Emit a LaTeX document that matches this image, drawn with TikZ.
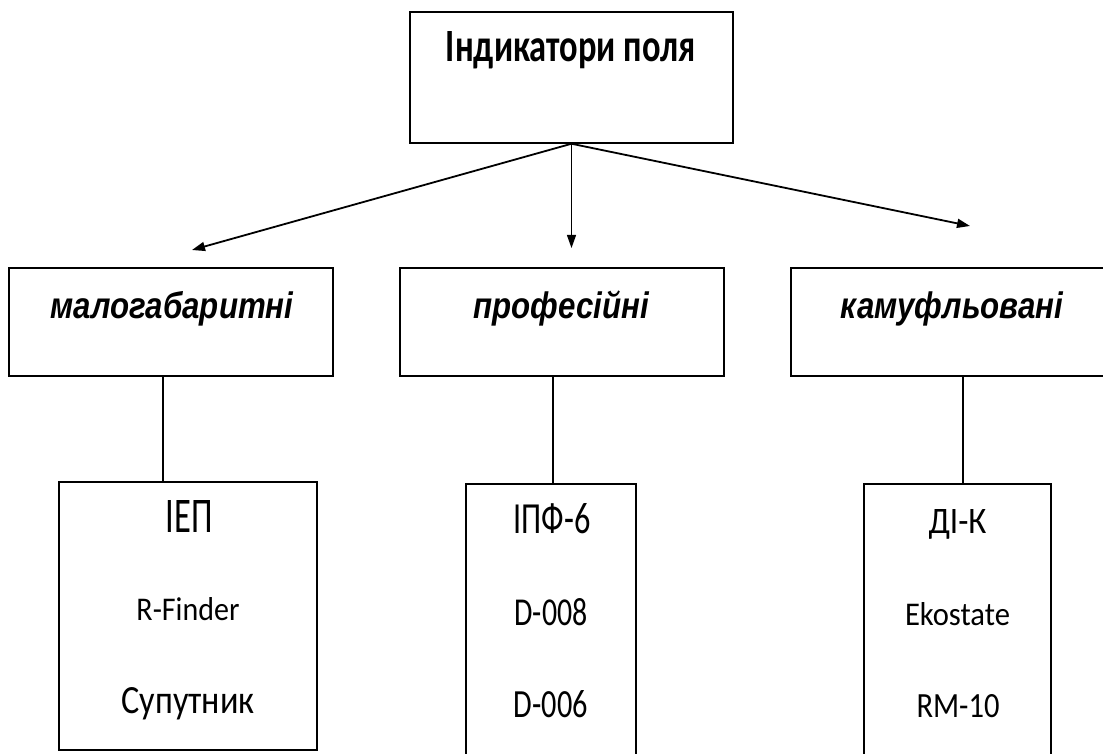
\documentclass[tikz,border=0pt]{standalone}
\usepackage{fontspec}
\setmainfont{Carlito}
\newfontfamily\midfont{Liberation Sans}
\usetikzlibrary{arrows.meta}

\newlength\mgw
\newlength\mgh
\settowidth\mgw{\midfont\bfseries\itshape малогабаритні}
\settoheight\mgh{\midfont\bfseries\itshape м}
\pgfmathsetmacro\msx{243/\mgw}
\pgfmathsetmacro\msy{19.5/\mgh}
\newcommand\fitbox[3]{\resizebox{#1pt}{#2pt}{#3}}
\newcommand\midtext[1]{\scalebox{\msx}[\msy]{\midfont\bfseries\itshape #1}}

\begin{document}
\begin{tikzpicture}[x=1pt,y=-1pt,
  box/.style n args={2}{draw,line width=1.5pt,inner sep=0pt,minimum width=#1pt,minimum height=#2pt},
  txt/.style={anchor=base,inner sep=0pt,outer sep=0pt},
  arr/.style={line width=1.8pt,-{Triangle[length=13pt,width=9pt]}},
  ln/.style={line width=1.3pt}]
\useasboundingbox (0,0) rectangle (1103,754);
\fill[white] (0,0) rectangle (1103,754);

% boxes
\node[box={323}{131}] (top) at (571.5,77.5) {};
\node[box={324}{108}] (m1) at (171,322) {};
\node[box={324}{108}] (m2) at (562,322) {};
\node[box={326}{108}] (m3) at (954,322) {};
\node[box={258}{268}] (b1) at (188,616) {};
\node[box={170}{300}] (b2) at (551,634) {};
\node[box={187}{300}] (b3) at (957.5,634) {};

% texts
\node[txt] (tt) at (571,62) {\fitbox{250}{30}{\bfseries Індикатори поля}};
\node[txt] (t1) at (172,318) {\midtext{малогабаритні}};
\node[txt] (t2) at (561,318) {\midtext{професійні}};
\node[txt] (t3) at (952,318) {\midtext{камуфльовані}};

\node[txt] (a1) at (189,532) {\fitbox{47}{32}{ІЕП}};
\node[txt] (a2) at (188,620) {\fitbox{103}{23}{R-Finder}};
\node[txt] (a3) at (188,713) {\fitbox{133}{26}{Супутник}};

\node[txt] (c1) at (552,533) {\fitbox{77}{30}{ІПФ-6}};
\node[txt] (c2) at (551,625) {\fitbox{73}{27}{D-008}};
\node[txt] (c3) at (551,717) {\fitbox{74}{27}{D-006}};

\node[txt] (d1) at (957.5,533) {\fitbox{58}{24}{ДІ-К}};
\node[txt] (d2) at (957.5,625) {\fitbox{105}{23}{Ekostate}};
\node[txt] (d3) at (958,717) {\fitbox{83}{23}{RM-10}};

% arrows
\coordinate (e1) at (192,250);
\coordinate (e2) at (571.5,248);
\coordinate (e3) at (970,226);
\draw[arr] (top.south) -- (e1);
\draw[arr,line width=1.2pt] (top.south) -- (e2);
\draw[arr] (top.south) -- (e3);

% vertical connectors
\draw[ln] (m1.south -| 163,0) -- (b1.north -| 163,0);
\draw[ln] (m2.south -| 553,0) -- (b2.north -| 553,0);
\draw[ln] (m3.south -| 963,0) -- (b3.north -| 963,0);
\end{tikzpicture}
\end{document}
